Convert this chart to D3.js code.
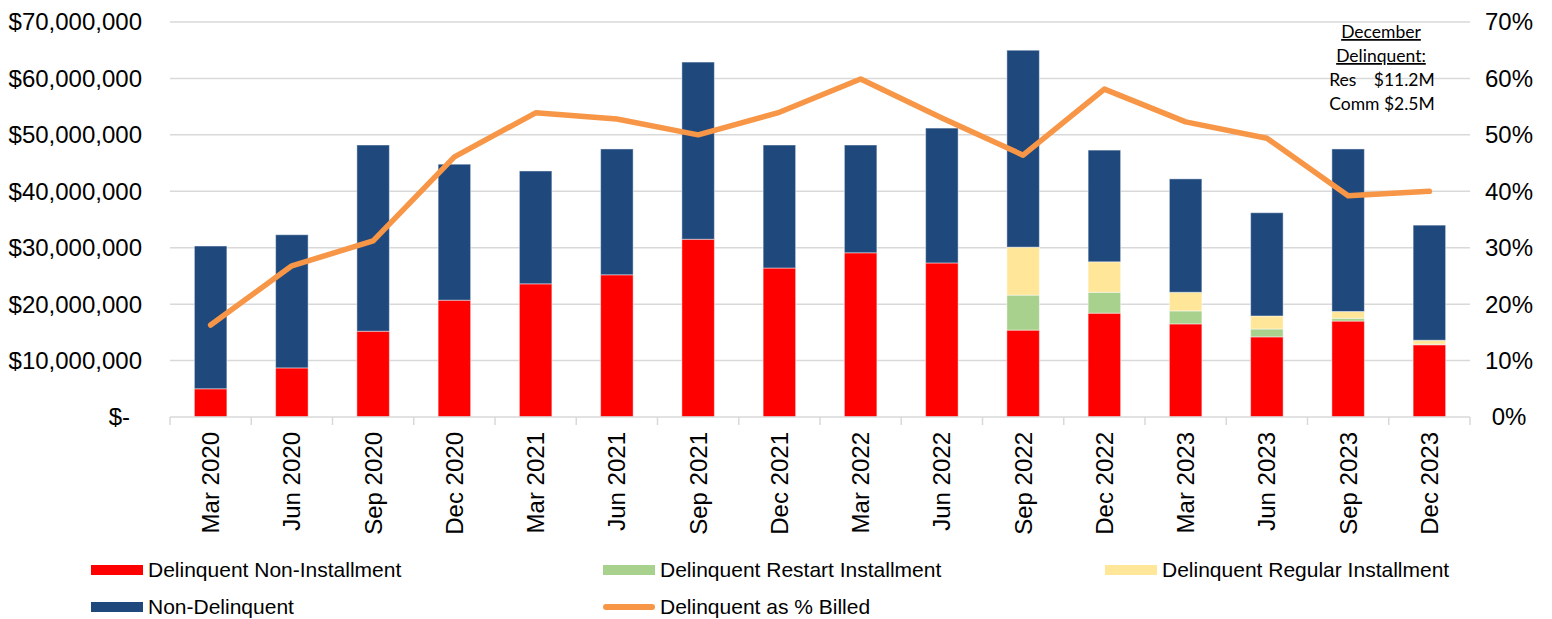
<html>
    <head>
    </head>
<script src='https://d3js.org/d3.v7.min.js'></script>
<style>
body {margin: 0; background: white;}
text {font-family: "Liberation Sans", Arial, sans-serif;}
text.note {font-family: Lato, "Open Sans", sans-serif; font-size: 17.5px;}
</style>
<body onload='init()'>
<svg width="1552" height="619"></svg>

<script>

// quarters on the x axis
var quarters = ["Mar 2020","Jun 2020","Sep 2020","Dec 2020","Mar 2021","Jun 2021","Sep 2021","Dec 2021",
                "Mar 2022","Jun 2022","Sep 2022","Dec 2022","Mar 2023","Jun 2023","Sep 2023","Dec 2023"];

// dollar amounts, in millions
var nonInstallment   = [5.0, 8.7, 15.2, 20.7, 23.6, 25.2, 31.5, 26.4, 29.1, 27.3, 15.4, 18.4, 16.5, 14.2, 17.0, 12.8];
var restartInstall   = [0, 0, 0, 0, 0, 0, 0, 0, 0, 0, 6.2, 3.7, 2.3, 1.4, 0.5, 0.1];
var regularInstall   = [0, 0, 0, 0, 0, 0, 0, 0, 0, 0, 8.5, 5.4, 3.3, 2.3, 1.2, 0.7];
var nonDelinquent    = [25.3, 23.6, 33.0, 24.1, 20.0, 22.3, 31.4, 21.8, 19.1, 23.9, 34.9, 19.8, 20.1, 18.3, 28.8, 20.4];

// line, percent
var pctBilled = [16.3, 26.8, 31.2, 46.1, 53.9, 52.8, 50.0, 54.0, 59.9, 53.0, 46.4, 58.1, 52.3, 49.4, 39.2, 40.0];

var leftTicks  = [0, 10, 20, 30, 40, 50, 60, 70];
var rightTicks = [0, 10, 20, 30, 40, 50, 60, 70];

var seriesNames  = ["Delinquent Non-Installment","Delinquent Restart Installment","Delinquent Regular Installment","Non-Delinquent"];
var seriesColors = ["#ff0000","#a9d18e","#ffe699","#1f497d"];
var lineName  = "Delinquent as % Billed";
var lineColor = "#f79646";

function init()
{
var svg = d3.select("svg");

var rows = quarters.map(function(q,i){
    return {q:q, a:nonInstallment[i], b:restartInstall[i], c:regularInstall[i], d:nonDelinquent[i], p:pctBilled[i]};
});

var x = d3.scaleBand()
.domain(quarters)
.range([170,1470])
.paddingInner(0.6)
.paddingOuter(0.3);

var y = d3.scaleLinear()
.domain([0,70])
.range([417,22]);

var y2 = d3.scaleLinear()
.domain([0,70])
.range([417,22]);

var color = d3.scaleOrdinal()
.domain(["a","b","c","d"])
.range(seriesColors);

//gridlines
svg.append("g")
.selectAll("line")
.data(leftTicks.slice(1))
.enter()
.append("line")
.attr("x1",170).attr("x2",1470)
.attr("y1",function(d){return y(d)}).attr("y2",function(d){return y(d)})
.style("stroke","#d9d9d9").style("stroke-width",1.5);

//left axis labels
var fmt = d3.format(",");
svg.append("g")
.selectAll("text")
.data(leftTicks)
.enter()
.append("text")
.attr("x",function(d){return d==0 ? 130 : 142})
.attr("y",function(d){return y(d)})
.attr("dy","0.35em")
.attr("text-anchor","end")
.style("font-size","24px")
.style("fill","#000")
.text(function(d){return d==0 ? "$-" : "$"+fmt(d*1000000)});

//right axis labels
svg.append("g")
.selectAll("text")
.data(rightTicks)
.enter()
.append("text")
.attr("x",1509)
.attr("y",function(d){return y2(d)})
.attr("dy","0.35em")
.attr("text-anchor","middle")
.style("font-size","24px")
.style("fill","#000")
.text(function(d){return d+"%"});

//stacked bars
var stack = d3.stack().keys(["a","b","c","d"]);
var layers = stack(rows);

svg.append("g")
.selectAll("g")
.data(layers)
.enter()
.append("g")
.style("fill",function(d){return color(d.key)})
.selectAll("rect")
.data(function(d){return d})
.enter()
.append("rect")
.attr("x",function(d){return x(d.data.q)})
.attr("width",x.bandwidth())
.attr("y",function(d){return y(d[1])})
.attr("height",function(d){return Math.max(0, y(d[0])-y(d[1]))})
.style("stroke","rgba(255,255,255,0.45)")
.style("stroke-width",function(d){return (d[1]-d[0])>0 ? 1 : 0});

//x axis
var gx = svg.append("g")
.attr("transform","translate(0,417)");
gx.append("line")
.attr("x1",170).attr("x2",1470)
.style("stroke","#d9d9d9").style("stroke-width",1.5);
gx.selectAll(".tk")
.data(d3.range(quarters.length+1))
.enter()
.append("line")
.attr("class","tk")
.attr("x1",function(i){return 170+i*x.step()})
.attr("x2",function(i){return 170+i*x.step()})
.attr("y1",0).attr("y2",8)
.style("stroke","#d9d9d9").style("stroke-width",1.5);
gx.selectAll(".lab")
.data(quarters)
.enter()
.append("text")
.attr("class","lab")
.attr("transform",function(d){return "translate("+(x(d)+x.bandwidth()/2)+",15) rotate(-90)"})
.attr("dy","0.35em")
.attr("text-anchor","end")
.style("font-size","24px")
.style("fill","#000")
.text(function(d){return d});

//line
var line = d3.line()
.x(function(d){return x(d.q)+x.bandwidth()/2})
.y(function(d){return y2(d.p)});

svg.append("path")
.datum(rows)
.attr("d",line)
.style("fill","none")
.style("stroke",lineColor)
.style("stroke-width",5.5)
.style("stroke-linejoin","round")
.style("stroke-linecap","round");

//annotation
var note = svg.append("g");
note.append("text").attr("class","note").attr("x",1381).attr("y",38).attr("text-anchor","middle").style("text-decoration","underline").text("December");
note.append("text").attr("class","note").attr("x",1381).attr("y",62).attr("text-anchor","middle").style("text-decoration","underline").text("Delinquent:");
var comm = note.append("text").attr("class","note").attr("x",1382).attr("y",110).attr("text-anchor","middle").text("Comm $2.5M");
var bb = comm.node().getBBox();
note.append("text").attr("class","note").attr("x",bb.x).attr("y",86).text("Res");
note.append("text").attr("class","note").attr("x",bb.x+bb.width).attr("y",86).attr("text-anchor","end").text("$11.2M");

//legend
var legendItems = [
    {name:seriesNames[0], color:seriesColors[0], x:91,  y:570, line:false},
    {name:seriesNames[1], color:seriesColors[1], x:603, y:570, line:false},
    {name:seriesNames[2], color:seriesColors[2], x:1105, y:570, line:false},
    {name:seriesNames[3], color:seriesColors[3], x:91,  y:607, line:false},
    {name:lineName,       color:lineColor,       x:603, y:607, line:true}
];
var lg = svg.append("g")
.selectAll("g")
.data(legendItems)
.enter()
.append("g")
.attr("transform",function(d){return "translate("+d.x+","+d.y+")"});
lg.filter(function(d){return !d.line})
.append("rect")
.attr("x",0).attr("y",-5).attr("width",52).attr("height",10)
.style("fill",function(d){return d.color});
lg.filter(function(d){return d.line})
.append("line")
.attr("x1",3).attr("x2",49).attr("y1",0).attr("y2",0)
.style("stroke",function(d){return d.color})
.style("stroke-width",6)
.style("stroke-linecap","round");
lg.append("text")
.attr("x",57)
.attr("dy","0.35em")
.style("font-size","21px")
.style("fill","#000")
.text(function(d){return d.name});
}

</script>
</body>
</html>
